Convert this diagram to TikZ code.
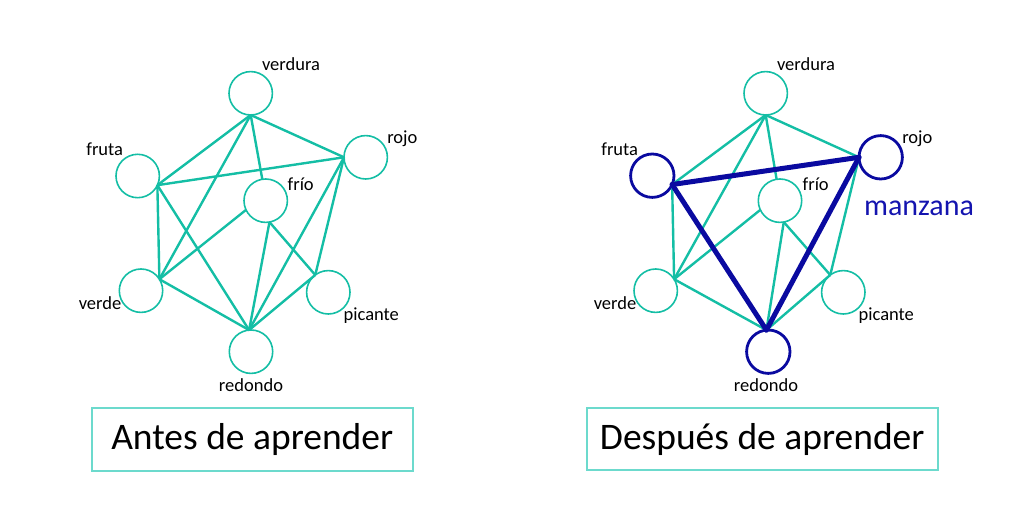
\documentclass[tikz,border=0pt]{standalone}
\usepackage{fontspec}
\setmainfont{Carlito}
\definecolor{teal1}{RGB}{20,190,165}
\definecolor{boxc}{RGB}{108,218,205}
\definecolor{navy1}{RGB}{10,10,160}
\definecolor{navy2}{RGB}{20,20,175}
\tikzset{
  concept/.style={circle,draw=teal1,line width=1.6pt,minimum size=43.4pt,inner sep=0pt,outer sep=0pt},
  keyc/.style={circle,draw=navy1,line width=2.8pt,minimum size=43.4pt,inner sep=0pt,outer sep=0pt},
  link/.style={draw=teal1,line width=2.4pt},
  strong/.style={draw=navy1,line width=5pt,line cap=round},
  lbl/.style={font=\fontsize{18.5}{21}\selectfont,anchor=base,inner sep=0pt},
  titlebox/.style={draw=boxc,line width=2pt,font=\fontsize{37.5}{42}\selectfont,inner sep=0pt,outer sep=0pt}
}
\begin{document}
\begin{tikzpicture}[x=1pt,y=-1pt]
\useasboundingbox (0,0) rectangle (1030,526);
% ---------- left graph ----------
\begin{scope}
\node[concept] (Averdura) at (250.7,93.3) {};
\node[concept] (Afruta) at (137.7,176) {};
\node[concept] (Arojo) at (365.7,157.3) {};
\node[concept] (Afrio) at (265.7,200.7) {};
\node[concept] (Averde) at (141,290.7) {};
\node[concept] (Apicante) at (328.3,292.3) {};
\node[concept] (Aredondo) at (251,351.7) {};
\draw[link] (Averdura.south) -- (Afruta.-25);
\draw[link] (Averdura.south) -- (Averde.32);
\draw[link] (Averdura.south) -- (Afrio.99);
\draw[link] (Averdura.south) -- (Arojo.west);
\draw[link] (Afruta.-25) -- (Arojo.west);
\draw[link] (Afruta.-25) -- (Averde.32);
\draw[link] (Afruta.-25) -- (Aredondo.95);
\draw[link] (Arojo.west) -- (Aredondo.95);
\draw[link] (Arojo.west) -- (Apicante.127);
\draw[link] (Afrio.205) -- (Averde.32);
\draw[link] (Afrio.280) -- (Aredondo.95);
\draw[link] (Afrio.280) -- (Apicante.127);
\draw[link] (Averde.32) -- (Aredondo.95);
\draw[link] (Apicante.127) -- (Aredondo.95);
\node[lbl] (LAverdura) at (291,71) {verdura};
\node[lbl] (LAfruta) at (104.7,155.3) {fruta};
\node[lbl] (LArojo) at (402.3,143.3) {rojo};
\node[lbl] (LAfrio) at (300.7,190.7) {frío};
\node[lbl] (LAverde) at (100,309.3) {verde};
\node[lbl] (LApicante) at (371.3,320.7) {picante};
\node[lbl] (LAredondo) at (251,391.7) {redondo};
\node[titlebox,minimum width=321pt,minimum height=62.7pt] (antes) at (252.2,439.7) {Antes de aprender};
\end{scope}
% ---------- right graph ----------
\begin{scope}
\node[concept] (Bverdura) at (765.7,93.3) {};
\node[keyc] (Bfruta) at (652.3,175.7) {};
\node[keyc] (Brojo) at (880.7,157.3) {};
\node[concept] (Bfrio) at (780,200.7) {};
\node[concept] (Bverde) at (655.7,290.7) {};
\node[concept] (Bpicante) at (843.3,292.3) {};
\node[keyc] (Bredondo) at (768.3,351.7) {};
\draw[link] (Bverdura.south) -- (Bfruta.-24);
\draw[link] (Bverdura.south) -- (Bverde.32);
\draw[link] (Bverdura.south) -- (Bfrio.99);
\draw[link] (Bverdura.south) -- (Brojo.west);
\draw[link] (Bfruta.-24) -- (Bverde.32);
\draw[link] (Brojo.west) -- (Bpicante.127);
\draw[link] (Bfrio.205) -- (Bverde.32);
\draw[link] (Bfrio.280) -- (Bredondo.95);
\draw[link] (Bfrio.280) -- (Bpicante.127);
\draw[link] (Bverde.32) -- (Bredondo.95);
\draw[link] (Bpicante.127) -- (Bredondo.95);
\draw[strong] (Bfruta.-24) -- (Brojo.west);
\draw[strong] (Bfruta.-24) -- (Bredondo.95);
\draw[strong] (Brojo.west) -- (Bredondo.95);
\node[lbl] (LBverdura) at (806,71) {verdura};
\node[lbl] (LBfruta) at (619.7,155.3) {fruta};
\node[lbl] (LBrojo) at (917.3,143.3) {rojo};
\node[lbl] (LBfrio) at (815.7,190.7) {frío};
\node[lbl] (LBverde) at (615,309.3) {verde};
\node[lbl] (LBpicante) at (886.3,320.7) {picante};
\node[lbl] (LBredondo) at (766,391.7) {redondo};
\node[lbl,font=\fontsize{30}{33}\selectfont,text=navy2] (manzana) at (919,216) {manzana};
\node[titlebox,minimum width=351pt,minimum height=61.7pt] (despues) at (762.2,439.2) {Después de aprender};
\end{scope}
\end{tikzpicture}
\end{document}
